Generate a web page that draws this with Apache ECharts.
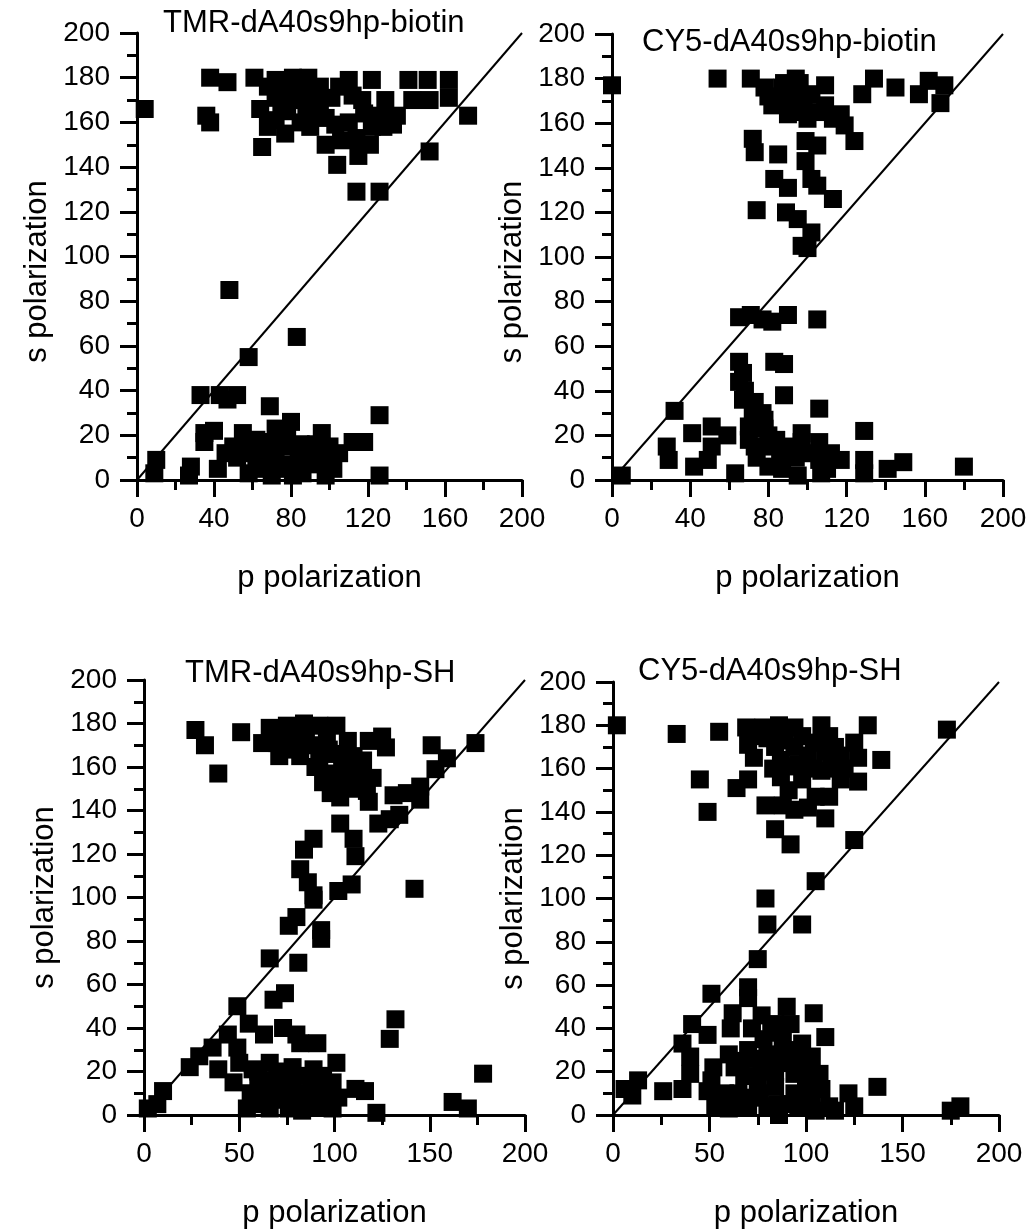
<!DOCTYPE html>
<html>
<head>
<meta charset="utf-8">
<title>polarization scatter</title>
<script src="https://cdn.jsdelivr.net/npm/echarts@6/dist/echarts.min.js"></script>
<style>
  html, body { margin: 0; padding: 0; background: #fff; }
  #chart { width: 1031px; height: 1230px; }
</style>
</head>
<body>
<div id="chart"></div>
<script>
// [p polarization, s polarization] pairs
const tmrBiotin = [
  [4,166],[38,180],[47,178],[61,180],[36,163],[38,160],[72,179],[81,180],[89,180],[95,176],
  [72,171],[83,170],[88,164],[98,162],[72,161],[77,155],[65,149],[110,179],[122,179],[117,170],
  [129,170],[103,159],[98,150],[104,141],[114,153],[122,158],[133,159],[115,145],[121,150],[114,129],
  [126,129],[141,179],[143,170],[151,179],[162,179],[152,170],[162,171],[152,147],[172,163],[84,173],
  [101,171],[95,168],[68,176],[77,177],[86,178],[92,172],[78,165],[85,160],[90,158],[80,170],
  [75,168],[105,176],[112,172],[118,164],[126,163],[128,158],[135,163],[110,160],[106,152],[90,165],
  [64,166],[68,158],
  [48,85],[83,64],[58,55],[33,38],[43,38],[52,38],[47,36],[69,33],[126,29],[35,21],
  [40,22],[35,17],[55,21],[50,15],[80,26],[72,23],[96,21],[100,15],[112,17],[118,17],
  [10,9],[9,3],[28,6],[27,2],[42,5],[60,12],[65,5],[72,12],[77,15],[81,7],
  [86,3],[88,12],[95,9],[67,17],[57,17],[102,5],[101,9],[126,2],[70,2],[81,2],
  [52,10],[58,3],[62,18],[68,9],[75,5],[78,19],[85,16],[90,7],[93,16],[98,2],
  [62,8],[74,19],[84,9],[105,12],[46,12]
];
const cy5Biotin = [
  [0,177],[54,180],[71,180],[78,176],[82,168],[94,180],[87,176],[95,174],[95,165],[102,173],
  [109,177],[109,168],[117,164],[119,159],[124,152],[128,173],[134,180],[145,176],[157,173],[162,179],
  [170,177],[168,169],[72,153],[73,147],[85,146],[99,152],[105,150],[99,143],[83,135],[90,131],
  [102,135],[105,132],[113,126],[74,121],[89,120],[95,117],[102,111],[97,105],[100,104],
  [80,172],[85,170],[90,168],[93,170],[98,168],[100,162],[104,165],[88,178],[113,162],[96,178],[90,164],
  [65,73],[71,74],[77,72],[82,71],[90,74],[105,72],[65,53],[67,48],[65,44],[83,53],
  [88,52],[88,38],[32,31],[106,32],[67,36],[73,35],[77,30],[70,24],[78,23],[73,15],
  [81,15],[28,15],[29,9],[41,21],[51,24],[59,20],[42,6],[49,9],[51,15],[63,3],
  [80,6],[87,5],[95,2],[97,21],[97,17],[106,17],[106,9],[107,3],[117,9],[129,22],
  [129,9],[129,3],[141,5],[149,8],[180,6],[5,2],[94,10],
  [68,40],[72,30],[75,25],[80,20],[78,27],[70,18],[74,10],[84,18],[86,8],[90,15],
  [100,12],[110,5],[112,12]
];
const tmrSH = [
  [27,177],[32,170],[39,157],[51,176],[62,171],[66,178],[75,179],[84,180],[92,179],[101,179],
  [70,171],[78,174],[85,173],[96,174],[107,172],[71,165],[82,165],[92,165],[101,166],[110,165],
  [96,157],[104,159],[113,157],[94,153],[106,153],[120,155],[117,149],[103,146],[118,144],[118,172],
  [125,174],[127,169],[131,147],[138,148],[145,151],[145,145],[151,170],[159,164],[153,159],[174,171],
  [103,134],[110,127],[111,119],[123,134],[129,136],[134,138],[89,127],[84,122],[82,113],[86,107],
  [89,101],[102,103],[109,106],[142,104],
  [88,170],[80,168],[97,168],[90,160],[100,155],[108,161],[75,172],[115,163],[98,148],[112,150],
  [89,99],[80,91],[76,87],[93,85],[93,81],[66,72],[81,70],[74,56],[68,53],[49,50],
  [132,44],[129,35],[55,42],[44,37],[63,37],[73,40],[80,37],[91,33],[82,33],[36,31],
  [29,27],[24,22],[39,21],[49,31],[50,24],[47,15],[57,21],[56,10],[66,24],[68,16],
  [78,22],[89,21],[101,24],[99,15],[78,15],[87,10],[96,9],[71,7],[63,9],[80,6],
  [92,4],[54,3],[66,3],[99,3],[111,12],[116,11],[122,1],[10,11],[7,5],[2,3],
  [162,6],[170,3],[178,19],[60,14],[75,10],[85,18],[90,5],[70,20],[95,12],[58,5],[83,2],
  [60,20],[64,12],[72,14],[82,10],[88,14],[94,18],[76,3],[86,6],[102,8],[68,8]
];
const cy5SH = [
  [2,180],[33,176],[55,177],[69,179],[78,179],[86,180],[94,179],[108,180],[132,180],[70,171],
  [80,174],[89,173],[98,175],[112,175],[125,172],[73,165],[87,164],[101,166],[110,168],[118,166],
  [127,165],[139,164],[87,156],[98,155],[108,159],[118,155],[127,154],[92,161],[45,155],[70,155],
  [64,151],[49,140],[79,143],[88,143],[94,141],[101,142],[105,147],[112,147],[110,137],[84,132],
  [92,125],[125,127],[105,108],[79,100],[173,178],
  [75,175],[84,170],[94,170],[104,172],[115,170],[83,160],[96,162],[104,160],[113,160],[91,150],[120,160],
  [80,88],[98,88],[75,72],[51,56],[70,59],[70,54],[62,47],[61,40],[90,50],[104,47],
  [110,36],[92,42],[77,46],[84,42],[41,42],[49,37],[36,33],[40,27],[40,19],[13,16],
  [6,12],[10,9],[26,11],[36,12],[52,22],[51,16],[49,11],[58,10],[53,4],[63,22],
  [70,30],[68,18],[72,8],[77,21],[80,28],[87,24],[94,19],[98,33],[103,27],[107,19],
  [84,13],[94,10],[103,8],[70,4],[80,4],[91,5],[101,4],[112,4],[122,10],[125,4],
  [137,13],[175,2],[180,4],[75,14],[88,30],[96,25],[65,10],[85,5],[78,35],[100,15],[60,28],
  [66,25],[72,40],[82,38],[88,36],[95,30],[100,22],[104,14],[74,26],[84,20],[90,24],
  [66,4],[76,10],[86,0],[96,4],[108,12],[115,2],[60,3],[105,2]
];
const diagonal = [[0, 0], [200, 200]];

const panelTitles = ["TMR-dA40s9hp-biotin", "CY5-dA40s9hp-biotin", "TMR-dA40s9hp-SH", "CY5-dA40s9hp-SH"];
const panelData = [tmrBiotin, cy5Biotin, tmrSH, cy5SH];
const xTickStep = [40, 40, 50, 50];
const yTickStep = 20;

const font = "'Liberation Sans', Arial, sans-serif";
const grids = [
  { left: 137, top: 33, width: 385, height: 447 },
  { left: 612, top: 34, width: 391, height: 446 },
  { left: 144, top: 680, width: 381, height: 439 },
  { left: 613, top: 682, width: 386, height: 436 }
];
const titlePos = [[163, 8], [642, 27], [185, 658], [638, 656]];

function axisBase() {
  return {
    type: "value",
    min: 0,
    max: 200,
    splitLine: { show: false },
    axisLine: { lineStyle: { color: "#000", width: 3 } },
    axisTick: { length: 17, lineStyle: { color: "#000", width: 3 } },
    minorTick: { show: true, splitNumber: 2, length: 10, lineStyle: { color: "#000", width: 3 } },
    nameLocation: "middle",
    nameTextStyle: { fontSize: 31, color: "#000", fontFamily: font }
  };
}

const option = {
  backgroundColor: "#fff",
  animation: false,
  title: panelTitles.map((t, i) => ({
    text: t,
    left: titlePos[i][0],
    top: titlePos[i][1],
    padding: 0,
    textStyle: { fontSize: 31, fontWeight: "normal", color: "#000", fontFamily: font }
  })),
  grid: grids,
  xAxis: grids.map((g, i) => Object.assign(axisBase(), {
    gridIndex: i,
    interval: xTickStep[i],
    name: "p polarization",
    nameGap: 83,
    axisLabel: { fontSize: 28, color: "#000", margin: 25, fontFamily: font }
  })),
  yAxis: grids.map((g, i) => {
    const ax = Object.assign(axisBase(), {
      gridIndex: i,
      interval: yTickStep,
      name: "s polarization",
      nameGap: 84,
      axisLabel: { fontSize: 28, color: "#000", margin: 27, fontFamily: font }
    });
    if (i < 2) ax.nameTextStyle = Object.assign({}, ax.nameTextStyle, { padding: [0, 30, 0, 0] });
    return ax;
  }),
  series: []
};

panelData.forEach((d, i) => {
  option.series.push({
    type: "line",
    xAxisIndex: i,
    yAxisIndex: i,
    data: diagonal,
    symbol: "none",
    lineStyle: { color: "#000", width: 2 },
    z: 1
  });
  option.series.push({
    type: "scatter",
    xAxisIndex: i,
    yAxisIndex: i,
    data: d,
    symbol: "rect",
    symbolSize: 18,
    itemStyle: { color: "#000", opacity: 1 },
    z: 2
  });
});

const chart = echarts.init(document.getElementById("chart"), null, { renderer: "canvas" });
chart.setOption(option);
</script>
</body>
</html>
